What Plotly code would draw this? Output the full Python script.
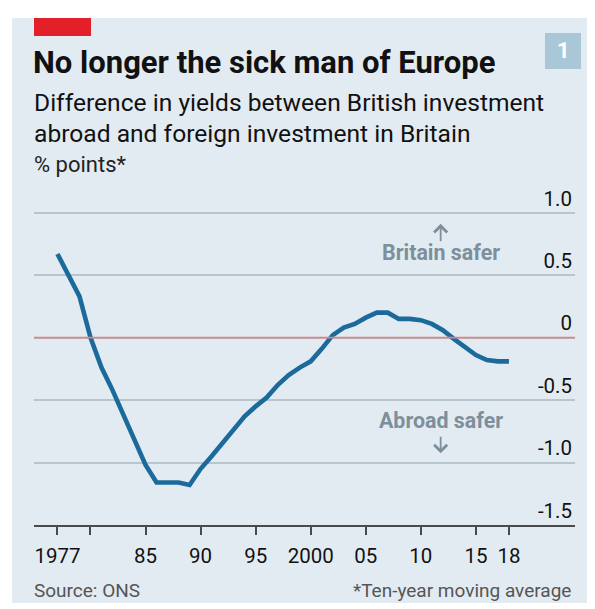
import plotly.graph_objects as go

years = list(range(1977, 2019))
spread = [0.67, 0.50, 0.33, 0.00, -0.24, -0.42, -0.62, -0.83, -1.02, -1.16,
          -1.16, -1.16, -1.18, -1.05, -0.95, -0.84, -0.74, -0.63, -0.55, -0.48,
          -0.38, -0.30, -0.24, -0.19, -0.09, 0.02, 0.08, 0.11, 0.16, 0.20,
          0.20, 0.15, 0.15, 0.14, 0.11, 0.06, -0.01, -0.07, -0.14, -0.18,
          -0.19, -0.19]

x_tickvals = [1977, 1980, 1985, 1990, 1995, 2000, 2005, 2010, 2015, 2018]
x_ticktext = ["1977", "", "85", "90", "95", "2000", "05", "10", "15", "18"]
y_tickvals = [1.0, 0.5, 0.0, -0.5, -1.0, -1.5]
y_ticktext = ["1.0", "0.5", "0", "-0.5", "-1.0", "-1.5"]

# page body has an 8px margin; work in reference-pixel coordinates
OFF = 8
W, H = 595 - OFF, 609 - OFF
PL, PR, PT, PB = 34, 575, 175, 525          # plot area in reference pixels
L, R, T, B = PL - OFF, W - (PR - OFF), PT - OFF, H - (PB - OFF)
PW, PH = PR - PL, PB - PT
Y_TOP = 1.0 + (212.7 - PT) / 124.8

def px(x):
    return (x - PL) / PW

def py(y):
    return (PB - y) / PH

BG = "#e2ebf2"
FONT = "Roboto"
NOTE_COL = "#7d8f9b"

fig = go.Figure()
fig.add_trace(go.Scatter(x=years, y=spread, mode="lines",
                         line=dict(color="#1c6a9c", width=4.6),
                         hoverinfo="skip", showlegend=False))

shapes = [
    dict(type="rect", xref="paper", yref="paper", x0=px(12), x1=px(590),
         y0=py(603), y1=py(18), fillcolor=BG, line=dict(width=0), layer="below"),
    dict(type="rect", xref="paper", yref="paper", x0=px(34), x1=px(91),
         y0=py(36), y1=py(18), fillcolor="#e3202a", line=dict(width=0)),
    dict(type="rect", xref="paper", yref="paper", x0=px(545), x1=px(581),
         y0=py(69), y1=py(33), fillcolor="#aac7d8", line=dict(width=0)),
    dict(type="line", xref="paper", yref="y", x0=0, x1=1, y0=0, y1=0,
         line=dict(color="#d98585", width=1.8)),
]

annotations = [
    dict(text="<b>No longer the sick man of Europe</b>", x=px(31), y=py(63),
         font=dict(size=31, color="#111111", family=FONT)),
    dict(text="Difference in yields between British investment", x=px(32), y=py(103),
         font=dict(size=24.6, color="#111111", family=FONT)),
    dict(text="abroad and foreign investment in Britain", x=px(32), y=py(134),
         font=dict(size=24.6, color="#111111", family=FONT)),
    dict(text="% points*", x=px(32), y=py(164),
         font=dict(size=22, color="#222222", family=FONT)),
    dict(text="Source: ONS", x=px(32), y=py(590),
         font=dict(size=19, color="#555555", family=FONT)),
    dict(text="*Ten-year moving average", x=px(573), y=py(590), xanchor="right",
         font=dict(size=19, color="#555555", family=FONT)),
    dict(text="<b>1</b>", x=px(563), y=py(51), xanchor="center",
         font=dict(size=22, color="#ffffff", family=FONT)),
]
for a in annotations:
    a.setdefault("xanchor", "left")
    a.update(xref="paper", yref="paper", yanchor="middle", showarrow=False)

NOTE_X = 2011.8
data_notes = [
    dict(text="<b>Britain safer</b>", y=0.683),
    dict(text="<b>Abroad safer</b>", y=-0.665),
]
for d in data_notes:
    annotations.append(dict(text=d["text"], x=NOTE_X, y=d["y"], xref="x", yref="y",
                            xanchor="center", yanchor="middle", showarrow=False,
                            font=dict(size=21.4, color=NOTE_COL, family=FONT)))

# direction arrows (tip position in data units, tail offset in pixels)
arrow_tips = [(0.911, 19), (-0.926, -18)]
for tip_y, tail in arrow_tips:
    annotations.append(dict(text="", x=NOTE_X, y=tip_y, xref="x", yref="y",
                            ax=0, ay=tail, showarrow=True, arrowhead=4,
                            arrowsize=1.4, arrowwidth=1.8, arrowcolor=NOTE_COL))

fig.update_layout(
    width=W, height=H,
    margin=dict(l=L, r=R, t=T, b=B, pad=0),
    paper_bgcolor="#ffffff",
    plot_bgcolor="rgba(0,0,0,0)",
    shapes=shapes,
    annotations=annotations,
    font=dict(family=FONT, color="#111111"),
    xaxis=dict(range=[1974.87, 2024.0], tickvals=x_tickvals, ticktext=x_ticktext,
               showgrid=False, zeroline=False, showline=True, linecolor="#4a4a4a",
               linewidth=2.2, ticks="outside", ticklen=8, tickwidth=2,
               tickcolor="#4a4a4a", ticklabelstandoff=3,
               tickfont=dict(size=20.5, color="#111111", family=FONT),
               fixedrange=True),
    yaxis=dict(range=[-1.5, Y_TOP], tickvals=y_tickvals, ticktext=y_ticktext,
               side="right", ticklabelposition="inside top",
               showgrid=True, gridcolor="#b9c5cd", gridwidth=2,
               zeroline=False, showline=False, ticks="",
               tickfont=dict(size=20.5, color="#111111", family=FONT),
               fixedrange=True),
)

fig.write_html("out.html")
